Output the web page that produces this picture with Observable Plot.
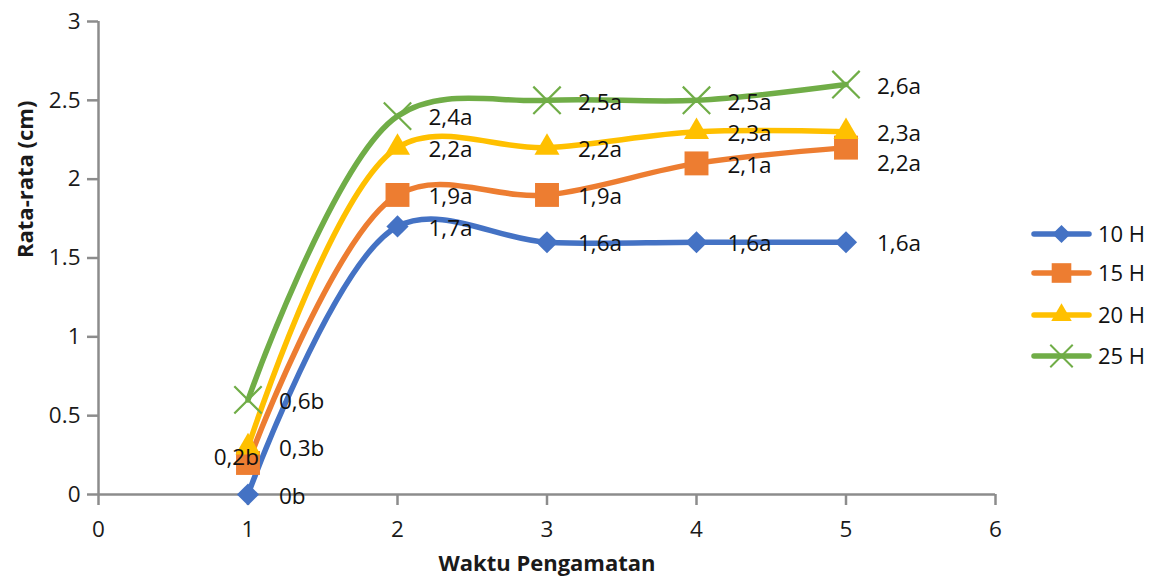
<!DOCTYPE html>
<html>
<head>
<meta charset="utf-8">
<script src="https://cdn.jsdelivr.net/npm/d3@7"></script>
<script src="https://cdn.jsdelivr.net/npm/@observablehq/plot@0.6"></script>
<style>
  html, body { margin: 0; padding: 0; background: #fff; }
  #chart { position: relative; width: 1153px; height: 582px; }
</style>
</head>
<body>
<div id="chart"></div>
<script>
// ---- data ----
const times = [1, 2, 3, 4, 5];
const seriesNames = ["10 H", "15 H", "20 H", "25 H"];
const values10 = [0, 1.7, 1.6, 1.6, 1.6];
const values15 = [0.2, 1.9, 1.9, 2.1, 2.2];
const values20 = [0.3, 2.2, 2.2, 2.3, 2.3];
const values25 = [0.6, 2.4, 2.5, 2.5, 2.6];
const labels10 = ["0b", "1,7a", "1,6a", "1,6a", "1,6a"];
const labels15 = ["0,2b", "1,9a", "1,9a", "2,1a", "2,2a"];
const labels20 = ["0,3b", "2,2a", "2,2a", "2,3a", "2,3a"];
const labels25 = ["0,6b", "2,4a", "2,5a", "2,5a", "2,6a"];
const xTicks = [0, 1, 2, 3, 4, 5, 6];
const yTicks = [0, 0.5, 1, 1.5, 2, 2.5, 3];
const xTitle = "Waktu Pengamatan";
const yTitle = "Rata-rata (cm)";

// ---- build table ----
const colors = ["#4472C4", "#ED7D31", "#FFC000", "#70AD47"];
const symbols = ["diamond2", "square", "triangle", "times"];
const allValues = [values10, values15, values20, values25];
const allLabels = [labels10, labels15, labels20, labels25];
const rows = [];
seriesNames.forEach((s, i) => {
  times.forEach((t, j) => rows.push({series: s, idx: i, x: t, y: allValues[i][j], label: allLabels[i][j]}));
});
// label placement: the first point of 15 H sits on the left; the others on the right.
const isLeft = r => r.idx === 1 && r.x === times[0];
// avoid overlapping right-hand labels at the same x by pushing lower ones down
const minGap = 0.19; // in y units (~30px)
times.forEach(t => {
  const group = rows.filter(r => r.x === t && !isLeft(r)).sort((a, b) => b.y - a.y);
  let prev = Infinity;
  group.forEach(r => {
    r.ly = Math.min(r.y, prev - minGap);
    prev = r.ly;
  });
});
rows.filter(isLeft).forEach(r => (r.ly = r.y));

const axisColor = "#8c8c8c";
const font = "'Open Sans', sans-serif";
const fs = 22.5;

const marks = [
  Plot.ruleX([0], {stroke: axisColor, strokeWidth: 2.5}),
  Plot.ruleY([0], {stroke: axisColor, strokeWidth: 2.5}),
  Plot.axisY({ticks: yTicks, tickFormat: d => String(d), tickSize: 11, tickPadding: 7, stroke: axisColor, strokeWidth: 2.5, fill: "#1a1a1a", fontSize: fs, label: null}),
  Plot.axisX({ticks: xTicks, tickFormat: d => String(d), tickSize: 11, tickPadding: 16, stroke: axisColor, strokeWidth: 2.5, fill: "#1a1a1a", fontSize: fs, label: null})
];
seriesNames.forEach((s, i) => {
  const d = rows.filter(r => r.idx === i);
  marks.push(Plot.line(d, {x: "x", y: "y", stroke: colors[i], strokeWidth: 5.5, curve: "catmull-rom", strokeLinecap: "round"}));
});
const symR = {diamond2: 10, square: 13.5, triangle: 9.3, times: 12.5};
seriesNames.forEach((s, i) => {
  const d = rows.filter(r => r.idx === i);
  const sym = symbols[i];
  if (sym === "times") {
    marks.push(Plot.dot(d, {x: "x", y: "y", symbol: sym, r: symR[sym], stroke: colors[i], strokeWidth: 2.2}));
  } else {
    marks.push(Plot.dot(d, {x: "x", y: "y", symbol: sym, r: symR[sym], fill: colors[i], stroke: "none"}));
  }
});
marks.push(Plot.text(rows.filter(r => !isLeft(r)), {x: "x", y: "ly", text: "label", textAnchor: "start", dx: 31, dy: 2, fontSize: fs, fill: "#111"}));
marks.push(Plot.text(rows.filter(isLeft), {x: "x", y: "ly", text: "label", textAnchor: "end", dx: 11, dy: -5, fontSize: fs, fill: "#111"}));
// axis titles
marks.push(Plot.text([xTitle], {frameAnchor: "bottom", dy: 76, text: d => d, fontSize: 22, fontWeight: "bold", fill: "#1a1a1a"}));
marks.push(Plot.text([yTitle], {frameAnchor: "left", dx: -73, rotate: -90, text: d => d, fontSize: 22, fontWeight: "bold", fill: "#1a1a1a"}));

const chart = Plot.plot({
  width: 1153,
  height: 582,
  marginLeft: 98,
  marginRight: 158,
  marginTop: 21,
  marginBottom: 88,
  x: {domain: [0, 6]},
  y: {domain: [0, 3]},
  style: {fontFamily: font, fontSize: fs + "px", background: "#fff", color: "#1a1a1a"},
  marks
});
document.getElementById("chart").appendChild(chart);

// legend (drawn into the same SVG)
const svg = d3.select(chart);
const leg = svg.append("g").attr("font-family", font).attr("font-size", 22).attr("text-anchor", "start");
const legendY = [234, 273, 315, 356];
const symMap = {diamond2: d3.symbolDiamond2, square: d3.symbolSquare, triangle: d3.symbolTriangle, times: d3.symbolTimes};
seriesNames.forEach((s, i) => {
  const g = leg.append("g").attr("transform", `translate(0,${legendY[i]})`);
  g.append("line").attr("x1", 1034).attr("x2", 1089).attr("y1", 0).attr("y2", 0)
    .attr("stroke", colors[i]).attr("stroke-width", 5.5).attr("stroke-linecap", "round");
  const r = symR[symbols[i]] * 0.82;
  const p = g.append("path").attr("transform", "translate(1061.5,0)")
    .attr("d", d3.symbol(symMap[symbols[i]], Math.PI * r * r)());
  if (symbols[i] === "times") p.attr("fill", "none").attr("stroke", colors[i]).attr("stroke-width", 2);
  else p.attr("fill", colors[i]);
  g.append("text").attr("x", 1098).attr("y", 0).attr("dy", "0.35em").attr("fill", "#111").text(s);
});
</script>
</body>
</html>
